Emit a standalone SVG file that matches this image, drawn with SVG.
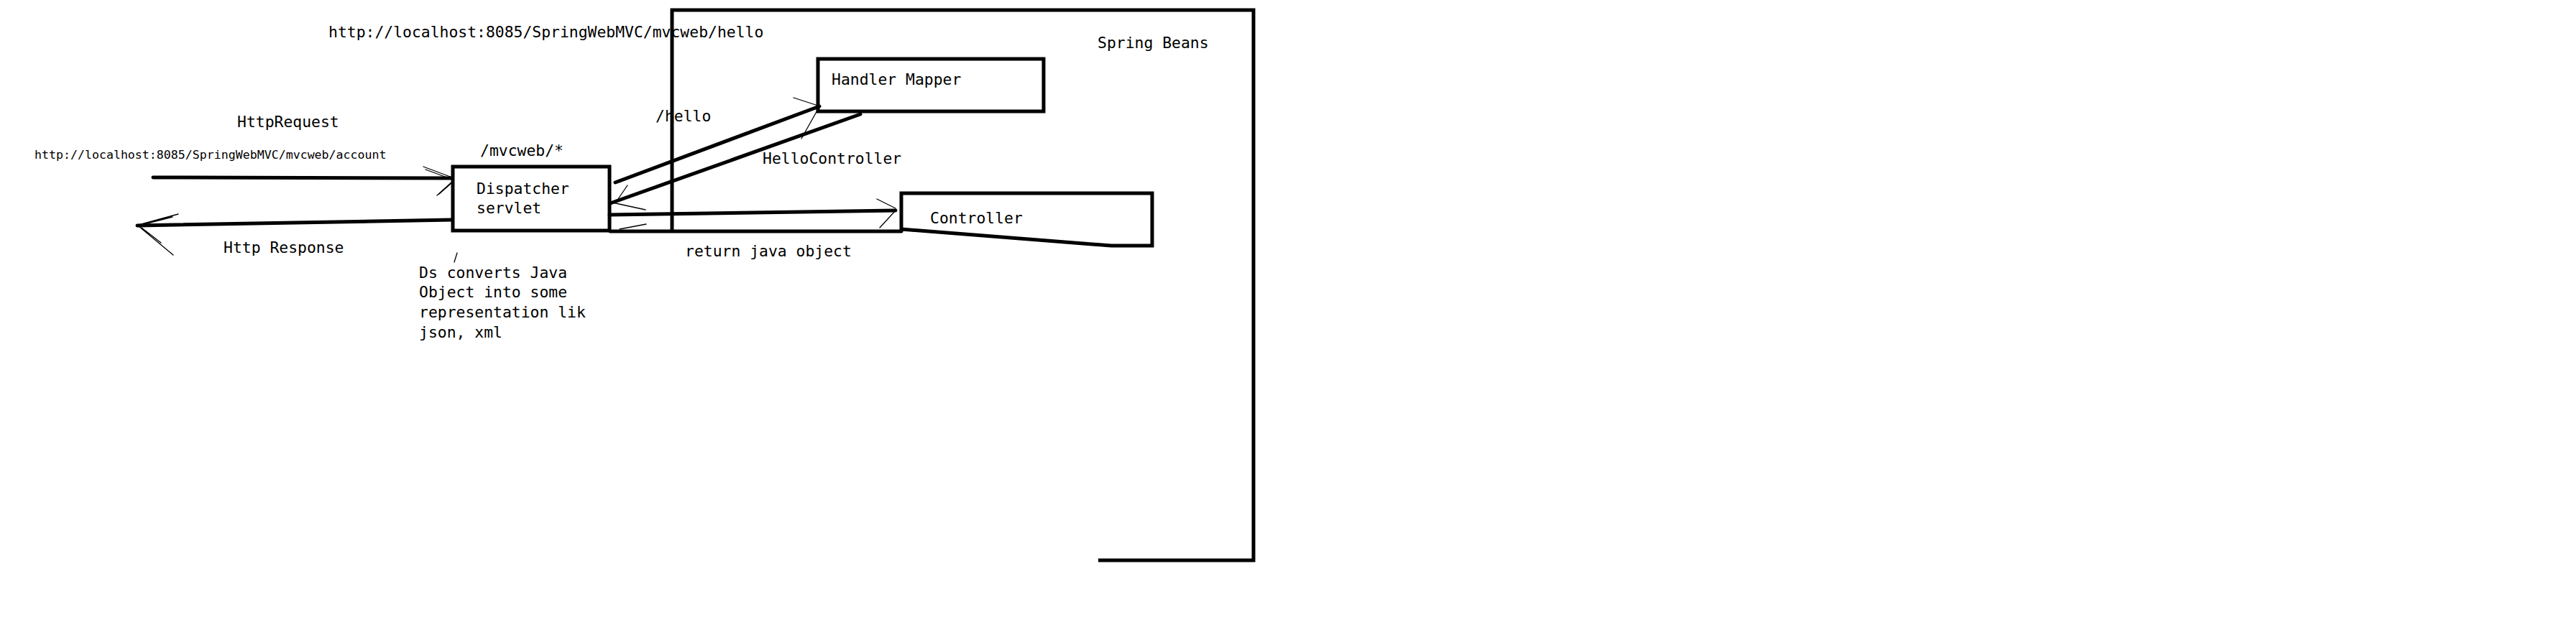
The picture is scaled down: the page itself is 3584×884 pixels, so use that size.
<svg xmlns="http://www.w3.org/2000/svg" width="3584" height="884" viewBox="0 0 3584 884">
<style>
.t{font-family:"DejaVu Sans Mono","Liberation Mono",monospace;font-size:21.4px;fill:#000}
.s{font-size:16.6px}
.box{fill:none;stroke:#000;stroke-width:5;stroke-linejoin:miter}
.ln{fill:none;stroke:#000;stroke-width:5;stroke-linecap:round}
.hd{fill:none;stroke:#000;stroke-width:1.3;stroke-linecap:round}
</style>
<rect width="3584" height="884" fill="#fff"/>
<g id="spring-beans">
<path class="box" d="M935,322 V14 H1744 V780 H1528"/>
<text class="t" x="1527" y="67">Spring Beans</text>
</g>
<g id="dispatcher-servlet">
<rect class="box" x="630" y="232" width="218" height="89"/>
<text class="t" x="663" y="270">Dispatcher</text>
<text class="t" x="663" y="297">servlet</text>
</g>
<g id="handler-mapper">
<rect class="box" x="1138" y="82" width="314" height="73"/>
<text class="t" x="1157" y="118">Handler Mapper</text>
</g>
<g id="controller">
<path class="box" d="M1254,322 V269 H1603 V342 H1546 L1254,319"/>
<text class="t" x="1294" y="311">Controller</text>
</g>
<g id="connectors">
<path class="ln" d="M213,247 L629,248"/>
<path class="hd" d="M589,232 L629,247 M592,236 L627,249 M608,272 L629,253 M611,270 L628,255"/>
<path class="ln" d="M629,306 L191,314"/>
<path class="hd" d="M248,298 L193,313 M240,302 L197,313 M193,315 L241,355 M197,317 L224,338"/>
<path class="ln" d="M856,254 L1140,148"/>
<path class="hd" d="M1104,136 L1138,147 M1115,193 L1138,152"/>
<path class="ln" d="M1197,159 L849,283"/>
<path class="hd" d="M873,258 L860,277 M852,282 L898,292"/>
<path class="ln" d="M848,299 L1246,293"/>
<path class="hd" d="M1220,277 L1246,290 M1224,317 L1246,293"/>
<path class="ln" d="M1254,322 L849,322"/>
<path class="hd" d="M899,312 L862,319"/>
<path class="hd" d="M632,365 L636,352"/>
</g>
<g id="labels">
<text class="t" x="457" y="52">http://localhost:8085/SpringWebMVC/mvcweb/hello</text>
<text class="t" x="912" y="169">/hello</text>
<text class="t" x="330" y="177">HttpRequest</text>
<text class="t" x="1061" y="228">HelloController</text>
<text class="t s" x="48" y="221">http://localhost:8085/SpringWebMVC/mvcweb/account</text>
<text class="t" x="668" y="217">/mvcweb/*</text>
<text class="t" x="311" y="352">Http Response</text>
<text class="t" x="953" y="357">return java object</text>
<text class="t" x="583" y="387">Ds converts Java</text>
<text class="t" x="583" y="414">Object into some</text>
<text class="t" x="583" y="442">representation lik</text>
<text class="t" x="583" y="470">json, xml</text>
</g>
</svg>
